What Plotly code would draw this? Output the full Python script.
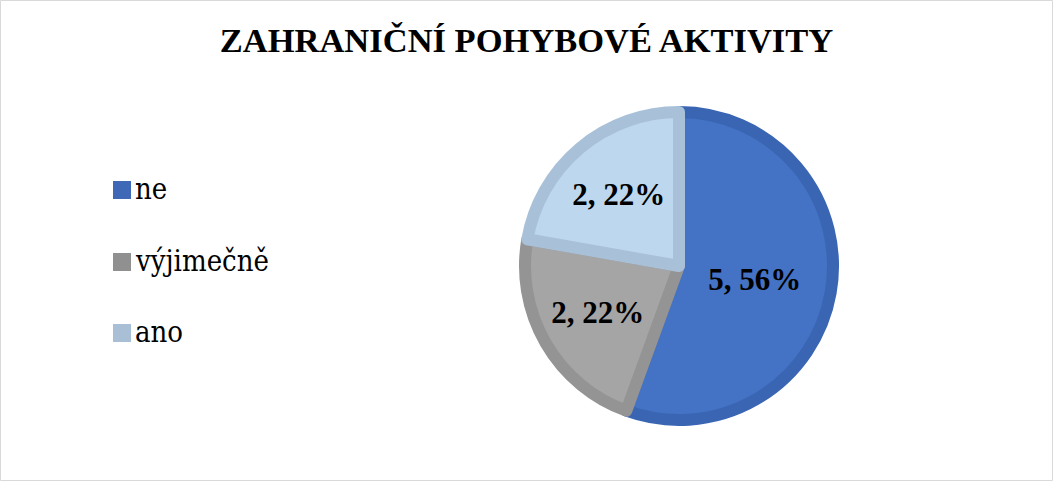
import plotly.graph_objects as go

title = "ZAHRANIČNÍ POHYBOVÉ AKTIVITY"
labels = ["ne", "výjimečně", "ano"]
values = [5, 2, 2]
fill_colors = ["#4472C4", "#A5A5A5", "#BDD7EE"]
line_colors = ["#3A65B3", "#949494", "#A9C1D8"]
legend_colors = ["#3F69B6", "#909090", "#A9BFD6"]

W, H = 1053, 481
cx, cy, r = 679, 266, 154
SERIF = "Liberation Serif, Times New Roman, serif"
LEG_FONT = "DejaVu Serif Condensed, DejaVu Serif, serif"

fig = go.Figure()
fig.add_trace(go.Pie(
    labels=labels,
    values=values,
    sort=False,
    direction="clockwise",
    rotation=0,
    marker=dict(colors=fill_colors, line=dict(color=line_colors, width=12)),
    texttemplate="<b>%{value}, %{percent:.0%}</b>",
    textposition="inside",
    insidetextorientation="horizontal",
    textfont=dict(family=SERIF, size=31, color="#000000"),
    domain=dict(x=[(cx - r) / W, (cx + r) / W], y=[(H - cy - r) / H, (H - cy + r) / H]),
    showlegend=False,
    hoverinfo="label+value+percent",
))

# manual legend
leg_y = [190, 262, 333]
shapes = [dict(type="rect", xref="paper", yref="paper", x0=0.5 / W, x1=(W - 0.5) / W,
               y0=0.5 / H, y1=(H - 0.5) / H, line=dict(color="#D9D9D9", width=1), fillcolor="rgba(0,0,0,0)")]
annotations = []
for lab, col, yy in zip(labels, legend_colors, leg_y):
    shapes.append(dict(type="rect", xref="paper", yref="paper",
                       x0=113 / W, x1=131 / W, y0=(H - yy - 9) / H, y1=(H - yy + 9) / H,
                       line=dict(width=0), fillcolor=col))
    annotations.append(dict(text=lab, xref="paper", yref="paper", x=133 / W, y=(H - yy + 1) / H,
                            xanchor="left", yanchor="middle", showarrow=False,
                            font=dict(family=LEG_FONT, size=29, color="#000000")))

fig.update_layout(
    width=W, height=H,
    margin=dict(l=0, r=0, t=0, b=0),
    font=dict(family=SERIF, color="#000000"),
    paper_bgcolor="white", plot_bgcolor="white",
    title=dict(text="<b>" + title + "</b>", x=0.5, xanchor="center", y=1 - 40 / H, yanchor="middle",
               font=dict(family=SERIF, size=34.5, color="#000000")),
    shapes=shapes,
    annotations=annotations,
)

fig.write_html("out.html", config={"displayModeBar": False},
               post_script="document.body.style.margin='0';")
